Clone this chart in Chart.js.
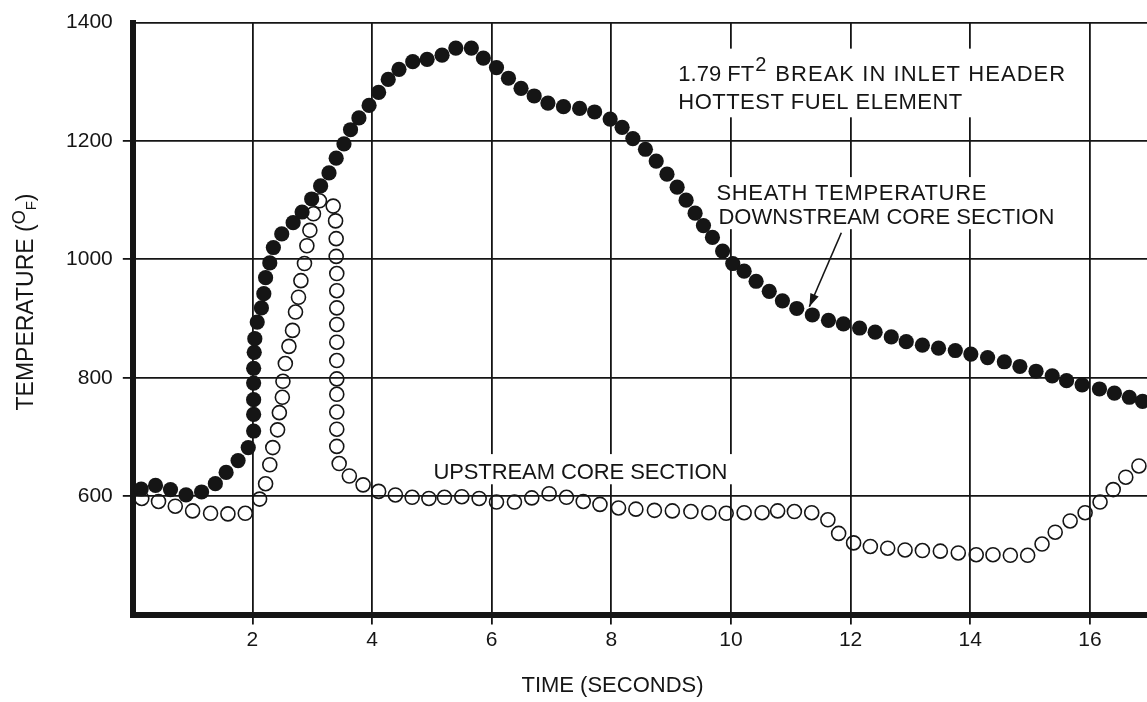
<!DOCTYPE html>
<html><head><meta charset="utf-8">
<script src="https://cdn.jsdelivr.net/npm/chart.js@4.4.0/dist/chart.umd.min.js"></script>
<style>html,body{margin:0;padding:0;background:#fff;overflow:hidden;}
#wrap{position:relative;width:1160px;height:702px;}</style></head><body>
<div id="wrap"><canvas id="c" width="1160" height="702"></canvas></div>
<script>
// ---- data ----
const sheathTime = [0.14,0.38,0.63,0.89,1.15,1.38,1.56,1.76,1.93,2.02,
  2.02,2.02,2.02,2.02,2.03,2.04,2.08,2.15,2.19,2.22,
  2.29,2.35,2.49,2.68,2.83,2.99,3.14,3.28,3.40,3.53,
  3.64,3.78,3.95,4.11,4.27,4.45,4.68,4.92,5.17,5.40,
  5.66,5.86,6.08,6.28,6.49,6.71,6.94,7.20,7.47,7.72,
  7.98,8.18,8.36,8.57,8.75,8.93,9.10,9.25,9.40,9.54,
  9.69,9.86,10.03,10.22,10.42,10.64,10.86,11.10,11.36,11.63,
  11.88,12.15,12.41,12.68,12.93,13.20,13.47,13.75,14.01,14.29,
  14.57,14.83,15.10,15.37,15.61,15.87,16.16,16.41,16.66,16.88];
const sheathTemp = [612,618,611,602,607,621,640,660,682,710,
  738,763,791,816,843,866,894,918,942,969,
  994,1020,1043,1062,1080,1102,1124,1146,1171,1195,
  1219,1239,1260,1282,1304,1321,1334,1338,1345,1357,
  1357,1340,1324,1306,1289,1276,1264,1258,1255,1249,
  1237,1223,1204,1186,1166,1144,1122,1100,1078,1057,
  1037,1014,993,980,963,946,930,917,906,897,
  891,884,877,869,861,855,850,846,840,834,
  827,819,811,803,795,788,781,774,767,760];
const upstreamTime = [0.15,0.43,0.71,1.00,1.30,1.59,1.88,2.12,2.22,2.29,
  2.34,2.42,2.45,2.50,2.51,2.55,2.61,2.67,2.72,2.77,
  2.81,2.87,2.91,2.96,3.02,3.12,3.35,3.39,3.40,3.40,
  3.41,3.41,3.41,3.41,3.41,3.41,3.41,3.41,3.41,3.41,
  3.41,3.45,3.62,3.85,4.11,4.39,4.67,4.95,5.21,5.50,
  5.79,6.08,6.38,6.67,6.96,7.25,7.53,7.81,8.12,8.41,
  8.72,9.02,9.33,9.63,9.92,10.22,10.52,10.78,11.06,11.35,
  11.62,11.80,12.05,12.33,12.62,12.91,13.20,13.50,13.80,14.10,
  14.38,14.67,14.96,15.20,15.42,15.67,15.92,16.17,16.39,16.60,16.82];
const upstreamTemp = [596,591,583,575,571,570,571,595,621,653,
  682,712,741,767,794,824,853,880,911,936,
  964,993,1023,1049,1077,1099,1090,1065,1035,1005,
  976,947,918,890,860,829,798,772,742,713,
  684,655,634,619,608,602,598,596,598,599,
  596,590,590,597,604,598,591,586,580,578,
  576,575,574,572,571,572,572,575,574,572,
  560,537,521,515,512,509,508,507,504,501,
  501,500,500,519,539,558,572,590,611,632,651];
const xTickValues = [0,2,4,6,8,10,12,14,16];
const yTickValues = [400,600,800,1000,1200,1400];

const INK = '#151515';
const FONT = '"Liberation Sans", Arial, Helvetica, sans-serif';

function pts(xs, ys){ return xs.map((x,i)=>({x:x, y:ys[i]})); }

// draw text stretched (via letter spacing) to a target pixel width
function fitText(ctx, s, x, y, w){
  ctx.letterSpacing = '0px';
  const m = ctx.measureText(s).width;
  const n = Math.max(1, s.length - 1);
  ctx.letterSpacing = ((w - m)/n).toFixed(2) + 'px';
  ctx.fillText(s, x, y);
  ctx.letterSpacing = '0px';
}

const annotations = {
  id:'annotations',
  beforeDatasetsDraw(chart){
    const {ctx, scales:{x, y}} = chart;
    const X = v=>x.getPixelForValue(v), Y = v=>y.getPixelForValue(v);
    ctx.save();
    // white label backgrounds that interrupt the grid
    ctx.fillStyle = '#fff';
    const box = (x0,x1,y0,y1)=>ctx.fillRect(X(x0), Y(y0), X(x1)-X(x0), Y(y1)-Y(y0));
    box(9.00, 15.74, 1356, 1240);
    box(9.67, 15.57, 1139, 1051);
    box(4.91, 10.07, 671, 620);
    ctx.fillStyle = INK;
    ctx.textBaseline = 'alphabetic';
    ctx.textAlign = 'left';
    ctx.font = '22px ' + FONT;
    const py = Y(1301);
    const lead = '1.79 FT';
    let px = X(9.12);
    ctx.fillText(lead, px, py);
    px += ctx.measureText(lead).width + 1;
    ctx.font = '20px ' + FONT;
    ctx.fillText('2', px, py - 10);
    ctx.font = '22px ' + FONT;
    fitText(ctx, 'BREAK IN INLET HEADER', X(10.74), py, 290);
    fitText(ctx, 'HOTTEST FUEL ELEMENT', X(9.12), Y(1254.6), 284);
    fitText(ctx, 'SHEATH TEMPERATURE', X(9.756), Y(1101), 270);
    fitText(ctx, 'DOWNSTREAM CORE SECTION', X(9.79), Y(1059), 336);
    fitText(ctx, 'UPSTREAM CORE SECTION', X(5.025), Y(629.7), 294);
    // arrow
    const ax0 = X(11.845), ay0 = Y(1045), ax1 = X(11.31), ay1 = Y(920);
    ctx.strokeStyle = INK; ctx.lineWidth = 1.6;
    ctx.beginPath(); ctx.moveTo(ax0, ay0); ctx.lineTo(ax1, ay1); ctx.stroke();
    const ang = Math.atan2(ay1-ay0, ax1-ax0), L = 13, W = 4.5;
    ctx.beginPath();
    ctx.moveTo(ax1, ay1);
    ctx.lineTo(ax1 - L*Math.cos(ang) + W*Math.sin(ang), ay1 - L*Math.sin(ang) - W*Math.cos(ang));
    ctx.lineTo(ax1 - L*Math.cos(ang) - W*Math.sin(ang), ay1 - L*Math.sin(ang) + W*Math.cos(ang));
    ctx.closePath(); ctx.fill();
    ctx.restore();
  },
  afterDraw(chart){
    const {ctx} = chart;
    ctx.save();
    ctx.fillStyle = INK;
    // x title
    ctx.font = '22px ' + FONT;
    ctx.textAlign = 'center'; ctx.textBaseline = 'alphabetic';
    ctx.fillText('TIME (SECONDS)', 612.5, 692);
    // y title (rotated) with raised O and lowered F
    ctx.translate(33, 302); ctx.rotate(-Math.PI/2);
    const parts = [['TEMPERATURE (',23,0],['O',18,-8],['F',15,3],[')',23,0]];
    let total = 0;
    parts.forEach(p=>{ ctx.font = p[1]+'px '+FONT; total += ctx.measureText(p[0]).width; });
    let cx = -total/2;
    ctx.textAlign = 'left';
    parts.forEach(p=>{ ctx.font = p[1]+'px '+FONT; ctx.fillText(p[0], cx, p[2]); cx += ctx.measureText(p[0]).width; });
    ctx.restore();
  }
};

new Chart(document.getElementById('c'), {
  type:'scatter',
  data:{ datasets:[
    { label:'Upstream core section', data:pts(upstreamTime, upstreamTemp),
      pointStyle:'circle', pointRadius:7, pointHoverRadius:7,
      backgroundColor:'rgba(0,0,0,0)', borderColor:INK, borderWidth:1.6, showLine:false, order:1 },
    { label:'Sheath temperature downstream core section', data:pts(sheathTime, sheathTemp),
      pointStyle:'circle', pointRadius:7.6, pointHoverRadius:7.6,
      backgroundColor:INK, borderColor:INK, borderWidth:0, showLine:false, order:2 }
  ]},
  options:{
    responsive:false, animation:false, devicePixelRatio:1,
    layout:{ padding:{ left:0, top:16, right:10.3, bottom:0 } },
    plugins:{ legend:{display:false}, tooltip:{enabled:false} },
    clip:false,
    scales:{
      x:{ type:'linear', min:0, max:17,
        afterBuildTicks:s=>{ s.ticks = xTickValues.map(v=>({value:v})); },
        afterFit:s=>{ s.height = 87.5; },
        ticks:{ color:INK, font:{family:FONT, size:21}, padding:3, maxRotation:0,
          callback:v=> v===0 ? '' : String(v) },
        grid:{ color:c=> c.tick && c.tick.value===0 ? 'rgba(0,0,0,0)' : INK, lineWidth:1.8,
          tickLength:10, tickColor:c=> c.tick && c.tick.value===0 ? 'rgba(0,0,0,0)' : INK, tickWidth:1.8 },
        border:{ display:true, color:INK, width:6 }
      },
      y:{ type:'linear', min:400, max:1400,
        afterBuildTicks:s=>{ s.ticks = yTickValues.map(v=>({value:v})); },
        afterFit:s=>{ s.width = 132.8; },
        ticks:{ color:INK, font:{family:FONT, size:21}, padding:10,
          callback:v=> v===400 ? '' : String(v) },
        grid:{ color:c=> c.tick && c.tick.value===400 ? 'rgba(0,0,0,0)' : INK, lineWidth:1.8,
          tickLength:10, tickColor:c=> c.tick && (c.tick.value===400 || c.tick.value===1400) ? 'rgba(0,0,0,0)' : INK, tickWidth:1.8 },
        border:{ display:true, color:INK, width:6 }
      }
    }
  },
  plugins:[annotations]
});
</script></body></html>
